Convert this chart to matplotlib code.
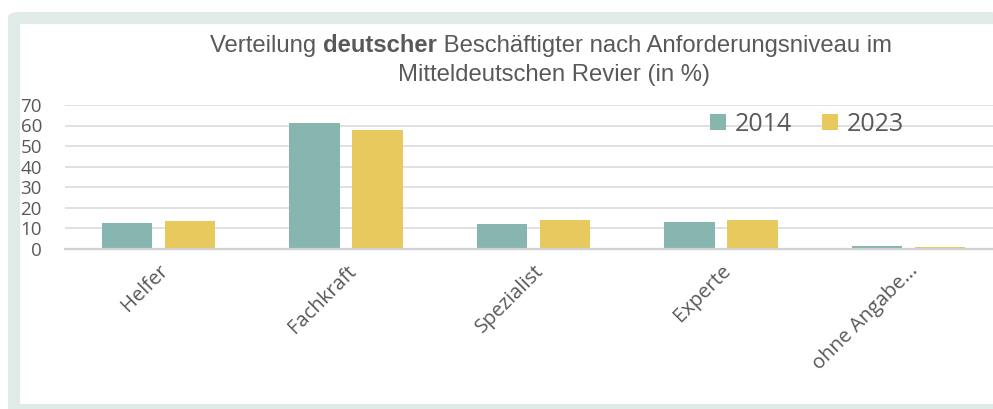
import matplotlib
matplotlib.use("Agg")
import matplotlib.pyplot as plt
from matplotlib.patches import FancyBboxPatch, Rectangle, Patch
import numpy as np

categories = ["Helfer", "Fachkraft", "Spezialist", "Experte", "ohne Angabe..."]
years = ["2014", "2023"]
values_2014 = [12.4, 61.1, 12.0, 12.7, 1.3]
values_2023 = [13.3, 57.8, 14.0, 13.8, 0.8]
y_ticks = [0, 10, 20, 30, 40, 50, 60, 70]

TEAL = "#87b5b0"
GOLD = "#e7c95e"
GREY_TXT = "#595959"
GRID = "#d9d9d9"
FRAME = "#e0ebe8"

W, H = 993, 409
fig = plt.figure(figsize=(W / 100, H / 100), dpi=100)

# Rahmen (Kachel-Hintergrund), ragt rechts und unten über den Rand
fig.patches.append(FancyBboxPatch((8 / W, -0.1), 1.0, 1.1 - 12 / H,
                                  boxstyle="round,pad=0,rounding_size=0.012",
                                  transform=fig.transFigure, facecolor=FRAME,
                                  edgecolor="none", zorder=-2))
fig.patches.append(Rectangle((20 / W, 1 - 404 / H), 1.0, (404 - 24) / H,
                             transform=fig.transFigure, facecolor="white",
                             edgecolor="none", zorder=-1))

left = 64.75 / W
right = 1002.25 / W
bottom = 1 - 248.5 / H
top = 1 - 105 / H
ax = fig.add_axes([left, bottom, right - left, top - bottom])
ax.set_facecolor("none")

x = np.arange(len(categories))
bw = 0.267
off = 0.168
ax.bar(x - off, values_2014, bw, color=TEAL, zorder=3)
ax.bar(x + off, values_2023, bw, color=GOLD, zorder=3)

ax.set_xlim(-0.5, len(categories) - 0.5)
ax.set_ylim(0, 70)
ax.set_yticks(y_ticks)
ax.yaxis.grid(True, color=GRID, linewidth=1.1, zorder=0)
ax.axhline(0, color="#d0d0d0", linewidth=1.6, zorder=4, clip_on=False)
for s in ax.spines.values():
    s.set_visible(False)
ax.tick_params(axis="y", length=0, pad=16.4, labelsize=13.5, labelcolor=GREY_TXT)
ax.tick_params(axis="x", length=0, pad=9)
for lab in ax.get_yticklabels():
    lab.set_fontfamily("Open Sans")

ax.set_xticks(x)
ax.set_xticklabels(categories, rotation=45, ha="right", va="top",
                   rotation_mode="anchor", fontsize=14.5, color=GREY_TXT,
                   fontfamily="Open Sans")

# Legende
handles = [Patch(facecolor=TEAL, label=years[0]), Patch(facecolor=GOLD, label=years[1])]
leg = fig.legend(handles=handles, loc="center left",
                 bbox_to_anchor=(710 / W, 1 - 124.5 / H), ncol=2, frameon=False,
                 prop={"family": "Open Sans", "size": 18}, handlelength=0.64,
                 handleheight=0.64, handletextpad=0.36, columnspacing=1.2,
                 borderpad=0, borderaxespad=0)
for t in leg.get_texts():
    t.set_color(GREY_TXT)

# Titel mit fettem Wort
renderer = fig.canvas.get_renderer()
tfont = dict(family="Liberation Sans", size=17.2, color=GREY_TXT)
parts = [("Verteilung ", "normal"), ("deutscher", "bold"),
         (" Beschäftigter nach Anforderungsniveau im", "normal")]
texts = [fig.text(0, 1 - 46 / H, p, fontweight=w, va="center", ha="left", **tfont)
         for p, w in parts]
widths = [t.get_window_extent(renderer).width for t in texts]
xpos = 551 - sum(widths) / 2
for t, w_ in zip(texts, widths):
    t.set_x(xpos / W)
    xpos += w_
fig.text(554 / W, 1 - 75 / H, "Mitteldeutschen Revier (in %)", ha="center",
         va="center", **tfont)

fig.savefig("out.png", dpi=100)
